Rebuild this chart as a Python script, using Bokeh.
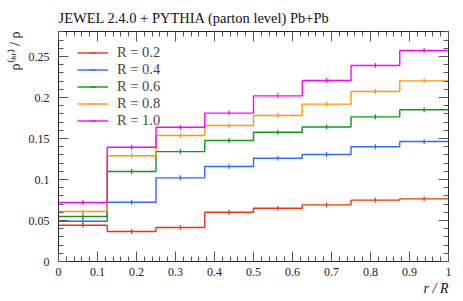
import numpy as np
from bokeh.plotting import figure
from bokeh.models import (Range1d, LinearAxis, Legend, LegendItem, Title,
                          SingleIntervalTicker)
from bokeh.embed import file_html
from bokeh.resources import INLINE

# ---- data ----
edges = [0.0, 0.125, 0.25, 0.375, 0.5, 0.625, 0.75, 0.875, 1.0]
labels = ["R = 0.2", "R = 0.4", "R = 0.6", "R = 0.8", "R = 1.0"]
r02 = [0.0443, 0.0366, 0.0415, 0.0600, 0.0650, 0.0690, 0.0748, 0.0764]
r04 = [0.0490, 0.0723, 0.1020, 0.1159, 0.1260, 0.1305, 0.1400, 0.1463]
r06 = [0.0549, 0.1098, 0.1340, 0.1476, 0.1577, 0.1640, 0.1764, 0.1850]
r08 = [0.0610, 0.1290, 0.1537, 0.1659, 0.1780, 0.1919, 0.2073, 0.2203]
r10 = [0.0720, 0.1394, 0.1638, 0.1810, 0.2020, 0.2207, 0.2390, 0.2573]
series = [r02, r04, r06, r08, r10]
colors = ["#EE3311", "#3366FF", "#109618", "#FF9900", "#FF00FF"]

FONT = "Liberation Serif"

p = figure(frame_width=390, frame_height=230, output_backend="svg",
           toolbar_location=None,
           x_range=Range1d(0, 1), y_range=Range1d(0, 0.2805),
           x_axis_location=None, y_axis_location=None)
p.min_border_left = 58
p.min_border_right = 10
p.min_border_top = 31
p.min_border_bottom = 38
p.grid.visible = False
p.outline_line_color = "#222222"
p.outline_line_width = 1
p.background_fill_color = "white"
p.border_fill_color = "white"

def make_axis(kind, labels_on):
    ax = LinearAxis()
    if kind == "x":
        ax.ticker = SingleIntervalTicker(interval=0.1, num_minor_ticks=5)
    else:
        ax.ticker = SingleIntervalTicker(interval=0.05, num_minor_ticks=5)
    ax.major_tick_in = 10
    ax.major_tick_out = 0
    ax.minor_tick_in = 5
    ax.minor_tick_out = 0
    ax.major_tick_line_color = "#555555"
    ax.minor_tick_line_color = "#555555"
    ax.axis_line_color = None
    ax.major_label_text_font = FONT
    ax.major_label_text_font_size = "12px"
    ax.major_label_text_color = "#222222"
    ax.major_label_standoff = 6
    if not labels_on:
        ax.major_label_text_font_size = "0px"
        ax.major_label_text_alpha = 0
        ax.major_label_standoff = 0
    return ax

xb = make_axis("x", True)
xb.major_label_overrides = {0: "0", 1: "1"}
p.add_layout(xb, "below")
p.add_layout(make_axis("x", False), "above")
yl = make_axis("y", True)
yl.major_label_overrides = {0: "0"}
yl.major_label_standoff = 9
p.add_layout(yl, "left")
p.add_layout(make_axis("y", False), "right")

items = []
centers = [(edges[i] + edges[i + 1]) / 2 for i in range(len(edges) - 1)]
for lab, vals, col in zip(labels, series, colors):
    ys = list(vals) + [vals[-1]]
    st = p.step(edges, ys, mode="after", line_color=col, line_width=1.4)
    mk = p.scatter(centers, vals, marker="dash", angle=np.pi / 2, size=5,
                   line_color=col, line_width=1.2)
    items.append(LegendItem(label=lab, renderers=[st, mk]))

leg = Legend(items=items)
leg.margin = 0
leg.padding = 0
leg.location = (19, 132)
leg.glyph_width = 31
leg.glyph_height = 15
leg.label_height = 15
leg.spacing = 0
leg.label_standoff = 9
leg.label_text_font = FONT
leg.label_text_font_size = "14.5px"
leg.border_line_alpha = 0
leg.background_fill_alpha = 0
p.add_layout(leg, "center")

t_top = Title(text="JEWEL 2.4.0 + PYTHIA (parton level) Pb+Pb", align="left",
              text_font=FONT, text_font_size="14.5px", text_font_style="normal",
              text_color="#111111", standoff=12, offset=0)
p.add_layout(t_top, "above")
t_left = Title(text="ρ⁽ⁱˢʳ⁾ / ρ", align="right", text_font=FONT,
               text_font_size="14px", text_font_style="normal",
               text_color="#111111", standoff=6, offset=0)
p.add_layout(t_left, "left")
t_bot = Title(text="r / R", align="right", text_font=FONT,
              text_font_size="14px", text_font_style="italic",
              text_color="#111111", standoff=0, offset=0)
p.add_layout(t_bot, "below")

open("out.html", "w").write(file_html(p, INLINE))
